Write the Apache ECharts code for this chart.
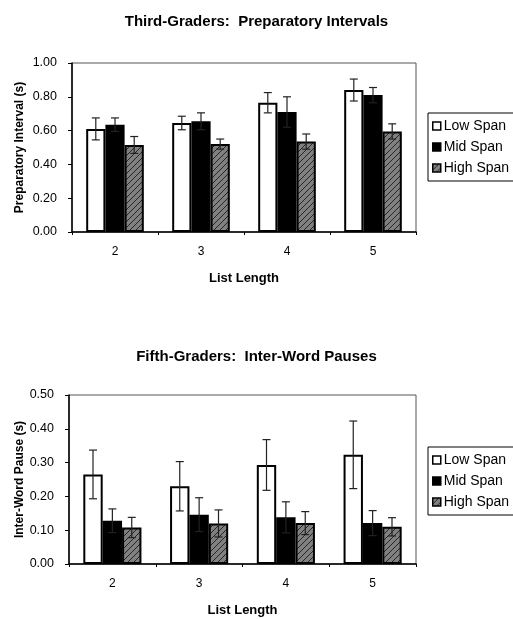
<!DOCTYPE html>
<html>
<head>
<meta charset="utf-8">
<script src="https://cdn.jsdelivr.net/npm/echarts@6/dist/echarts.min.js"></script>
<style>
html,body{margin:0;padding:0;background:#fff;}
#chart{width:513px;height:619px;}
</style>
</head>
<body>
<div id="chart"></div>
<script>
// ---- data ----
const categories = ['2', '3', '4', '5'];
const seriesNames = ['Low Span', 'Mid Span', 'High Span'];
const yTicksTop = [0, 0.2, 0.4, 0.6, 0.8, 1.0];
const yTicksBottom = [0, 0.1, 0.2, 0.3, 0.4, 0.5];

const prepLow = [0.61, 0.645, 0.765, 0.84];
const prepLowErr = [0.065, 0.04, 0.06, 0.065];
const prepMid = [0.635, 0.655, 0.71, 0.81];
const prepMidErr = [0.04, 0.05, 0.09, 0.045];
const prepHigh = [0.515, 0.52, 0.535, 0.595];
const prepHighErr = [0.05, 0.03, 0.045, 0.045];

const pauseLow = [0.265, 0.23, 0.293, 0.323];
const pauseLowErr = [0.072, 0.073, 0.075, 0.1];
const pauseMid = [0.128, 0.146, 0.138, 0.121];
const pauseMidErr = [0.035, 0.05, 0.046, 0.037];
const pauseHigh = [0.108, 0.12, 0.121, 0.11];
const pauseHighErr = [0.03, 0.04, 0.034, 0.027];

// ---- styles ----
const FONT = 'Liberation Sans, Arial, sans-serif';
const GAP = 0.33;

function hatchPattern() {
  const c = document.createElement('canvas');
  c.width = 6; c.height = 6;
  const g = c.getContext('2d');
  g.fillStyle = '#808080';
  g.fillRect(0, 0, 6, 6);
  g.strokeStyle = '#262626';
  g.lineWidth = 1;
  g.beginPath();
  g.moveTo(-1, 7); g.lineTo(7, -1);
  g.moveTo(-4, 4); g.lineTo(4, -4);
  g.moveTo(2, 10); g.lineTo(10, 2);
  g.stroke();
  return { image: c, repeat: 'repeat' };
}
const hatch = hatchPattern();

const barStyles = [
  { color: '#ffffff', borderColor: '#000', borderWidth: 2 },
  { color: '#000000', borderColor: '#000', borderWidth: 2 },
  { color: hatch, borderColor: '#000', borderWidth: 2 }
];

function barSeries(name, data, k, gi) {
  return {
    type: 'bar', name: name, data: data,
    xAxisIndex: gi, yAxisIndex: gi,
    barGap: '0%', barCategoryGap: (GAP * 100) + '%',
    itemStyle: barStyles[k],
    emphasis: { disabled: true },
    z: 2
  };
}

function errSeries(values, errs, k, gi) {
  return {
    type: 'custom',
    xAxisIndex: gi, yAxisIndex: gi,
    data: values.map((v, i) => [i, v, errs[i]]),
    z: 5,
    silent: true,
    renderItem: function (params, api) {
      const i = api.value(0), v = api.value(1), e = api.value(2);
      const band = api.size([1, 0])[0];
      const bw = band * (1 - GAP) / 3;
      const off = (k - 1) * bw;
      const top = api.coord([i, v + e]);
      const bot = api.coord([i, v - e]);
      const x = top[0] + off;
      const cw = 4;
      const st = { stroke: '#222', lineWidth: 1.2 };
      return {
        type: 'group',
        children: [
          { type: 'line', shape: { x1: x, y1: top[1], x2: x, y2: bot[1] }, style: st },
          { type: 'line', shape: { x1: x - cw, y1: top[1], x2: x + cw, y2: top[1] }, style: st },
          { type: 'line', shape: { x1: x - cw, y1: bot[1], x2: x + cw, y2: bot[1] }, style: st }
        ]
      };
    }
  };
}

function xAxis(gi) {
  return {
    type: 'category', gridIndex: gi, data: categories,
    name: 'List Length', nameLocation: 'middle', nameGap: 40,
    nameTextStyle: { fontFamily: FONT, fontSize: 13, fontWeight: 'bold', color: '#000' },
    axisLine: { lineStyle: { color: '#000', width: 1.5 } },
    axisTick: { show: true, length: 3, lineStyle: { color: '#000' } },
    axisLabel: { fontFamily: FONT, fontSize: 12, color: '#000', margin: 14 },
    splitLine: { show: false }
  };
}
function yAxis(gi, name, max, interval, nameGap) {
  return {
    type: 'value', gridIndex: gi, min: 0, max: max, interval: interval,
    name: name, nameLocation: 'middle', nameGap: nameGap, nameRotate: 90,
    nameMoveOverlap: false,
    nameTextStyle: { fontFamily: FONT, fontSize: 12, fontWeight: 'bold', color: '#000' },
    axisLine: { show: true, lineStyle: { color: '#000', width: 1.5 } },
    axisTick: { show: true, length: 4, lineStyle: { color: '#000' } },
    axisLabel: { fontFamily: FONT, fontSize: 12.5, color: '#000', margin: 15,
      formatter: v => v.toFixed(2) },
    splitLine: { show: false }
  };
}
function legend(top) {
  return {
    data: seriesNames, orient: 'vertical', left: 428, top: top,
    icon: 'rect', itemWidth: 8, itemHeight: 8, itemGap: 7,
    padding: [6, 8, 6, 4],
    borderColor: '#000', borderWidth: 1,
    selectedMode: false,
    itemStyle: { borderWidth: 1.5, borderColor: '#000' },
    textStyle: { fontFamily: FONT, fontSize: 14, color: '#000', padding: [0, 0, 0, -2] }
  };
}

const option = {
  backgroundColor: '#fff',
  animation: false,
  title: [
    { text: 'Third-Graders:  Preparatory Intervals', left: 'center', top: 9,
      textStyle: { fontFamily: FONT, fontSize: 15, fontWeight: 'bold', color: '#000' } },
    { text: 'Fifth-Graders:  Inter-Word Pauses', left: 'center', top: 344,
      textStyle: { fontFamily: FONT, fontSize: 15, fontWeight: 'bold', color: '#000' } }
  ],
  legend: [legend(113), legend(447)],
  grid: [
    { left: 72, right: 97, top: 63, bottom: 387, show: true, borderColor: '#555', borderWidth: 1 },
    { left: 69, right: 97, top: 395, bottom: 55, show: true, borderColor: '#555', borderWidth: 1 }
  ],
  xAxis: [xAxis(0), xAxis(1)],
  yAxis: [
    yAxis(0, 'Preparatory Interval (s)', yTicksTop[yTicksTop.length - 1], yTicksTop[1] - yTicksTop[0], 46),
    yAxis(1, 'Inter-Word Pause (s)', yTicksBottom[yTicksBottom.length - 1], yTicksBottom[1] - yTicksBottom[0], 43)
  ],
  series: [
    barSeries('Low Span', prepLow, 0, 0),
    barSeries('Mid Span', prepMid, 1, 0),
    barSeries('High Span', prepHigh, 2, 0),
    errSeries(prepLow, prepLowErr, 0, 0),
    errSeries(prepMid, prepMidErr, 1, 0),
    errSeries(prepHigh, prepHighErr, 2, 0),
    barSeries('Low Span', pauseLow, 0, 1),
    barSeries('Mid Span', pauseMid, 1, 1),
    barSeries('High Span', pauseHigh, 2, 1),
    errSeries(pauseLow, pauseLowErr, 0, 1),
    errSeries(pauseMid, pauseMidErr, 1, 1),
    errSeries(pauseHigh, pauseHighErr, 2, 1)
  ]
};

const chart = echarts.init(document.getElementById('chart'), null, { renderer: 'canvas' });
chart.setOption(option);
</script>
</body>
</html>
